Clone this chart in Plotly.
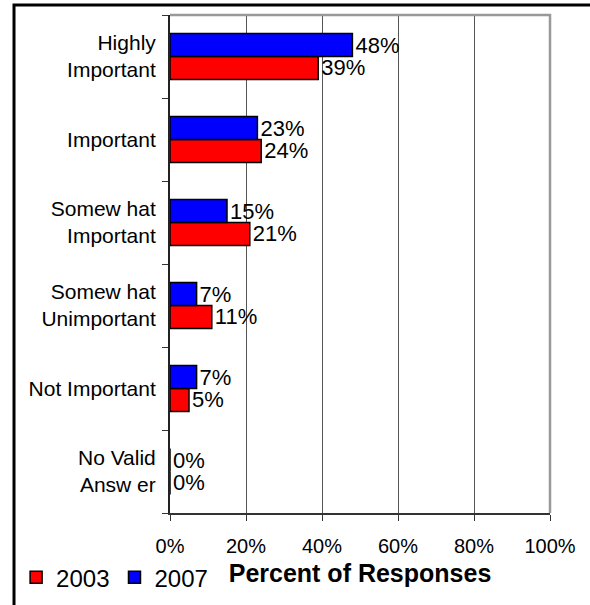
import plotly.graph_objects as go

# Survey answers, listed top to bottom as they appear on the chart
categories = [
    "Highly<br>Important",
    "Important",
    "Somew hat<br>Important",
    "Somew hat<br>Unimportant",
    "Not Important",
    "No Valid<br>Answ er",
]
pct_2003 = [39, 24, 21, 11, 5, 0]
pct_2007 = [48, 23, 15, 7, 7, 0]
x_ticks = [0, 20, 40, 60, 80, 100]

FONT = "Liberation Sans, Arial, sans-serif"

fig = go.Figure()
for name, vals, color in [("2003", pct_2003, "#FF0000"), ("2007", pct_2007, "#0000FF")]:
    fig.add_trace(go.Bar(
        name=name,
        y=categories,
        x=vals,
        orientation="h",
        marker=dict(color=color, line=dict(color="black", width=1.5)),
        text=[f"{v}%" for v in vals],
        textposition="outside",
        constraintext="none",
        cliponaxis=False,
        textfont=dict(family=FONT, size=22, color="black"),
    ))

fig.update_layout(
    width=590,
    height=605,
    margin=dict(l=170, r=40, t=15, b=92, autoexpand=False),
    paper_bgcolor="white",
    plot_bgcolor="white",
    barmode="group",
    bargap=0.446,
    bargroupgap=0,
    font=dict(family=FONT, color="black"),
    showlegend=True,
    legend=dict(
        orientation="h",
        x=-0.405, xanchor="left",
        y=-0.13, yanchor="middle",
        font=dict(family=FONT, size=24, color="black"),
        itemwidth=30,
        tracegroupgap=0,
        bgcolor="rgba(0,0,0,0)",
    ),
    xaxis=dict(
        range=[0, 100],
        tickvals=x_ticks,
        ticktext=[f"{t}%" for t in x_ticks],
        ticks="outside",
        ticklen=6,
        tickcolor="#333333",
        tickfont=dict(family=FONT, size=20, color="black"),
        ticklabelstandoff=8,
        showgrid=True,
        gridcolor="#555555",
        gridwidth=1,
        showline=True,
        linecolor="#333333",
        linewidth=2,
        zeroline=False,
        automargin=False,
        title=dict(
            text="<b>Percent of Responses</b>",
            font=dict(family=FONT, size=25, color="black"),
            standoff=8,
        ),
    ),
    yaxis=dict(
        categoryorder="array",
        categoryarray=categories[::-1],
        ticks="outside",
        tickson="boundaries",
        ticklen=6,
        tickcolor="#333333",
        tickfont=dict(family=FONT, size=21, color="black"),
        ticklabelstandoff=8,
        showgrid=False,
        showline=True,
        linecolor="#222222",
        linewidth=2,
        zeroline=False,
        automargin=False,
    ),
    shapes=[
        # light grey border on the top and right of the plot area
        dict(type="path", xref="paper", yref="paper",
             path="M 0 1 L 1 1 L 1 0",
             line=dict(color="#999999", width=2.5)),
        # outer frame around the whole chart
        dict(type="rect", xref="paper", yref="paper",
             x0=-0.4105, x1=1.14, y0=-0.3, y1=1.0201,
             line=dict(color="black", width=3)),
    ],
)

fig.write_html("out.html")
